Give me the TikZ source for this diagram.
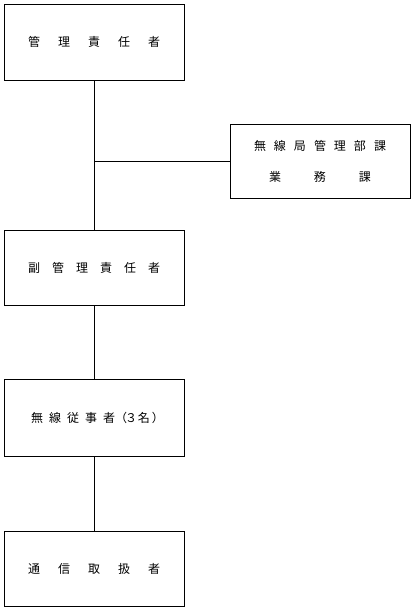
\documentclass[tikz,border=0pt]{standalone}
\usepackage{fontspec}
\newfontfamily\jpfont{Noto Sans CJK JP}
\usetikzlibrary{positioning}
\tikzset{
  soshiki/.style={draw, line width=0.8pt, minimum width=180pt, minimum height=75pt, inner sep=0pt, font=\jpfont\fontsize{12}{14}\selectfont, align=center},
  sen/.style={line width=0.8pt}
}
\begin{document}
\begin{tikzpicture}[x=1pt, y=-1pt]
				% 無線局の管理体制
				\useasboundingbox (0,0) rectangle (413,610);
				
				\node[soshiki, minimum height=76pt] (kanri) at (94,42) {管\hspace{18pt}理\hspace{18pt}責\hspace{18pt}任\hspace{18pt}者};
				\node[soshiki, minimum height=74pt] (bu) at (320,161) {無\hspace{8pt}線\hspace{8pt}局\hspace{8pt}管\hspace{8pt}理\hspace{8pt}部\hspace{8pt}課\\[17pt]業\hspace{33pt}務\hspace{33pt}課};
				\node[soshiki] (fuku) at (94,267.5) {副\hspace{12pt}管\hspace{12pt}理\hspace{12pt}責\hspace{12pt}任\hspace{12pt}者};
				\node[soshiki, minimum height=77pt] (jyuji) at (94,417.5) {無\hspace{6pt}線\hspace{6pt}従\hspace{6pt}事\hspace{6pt}者（\hspace{-2pt}３\hspace{1pt}名\hspace{2pt}）\hspace{-7pt}};
				\node[soshiki] (tsushin) at (94,568.5) {通\hspace{18pt}信\hspace{18pt}取\hspace{18pt}扱\hspace{18pt}者};
				
				\coordinate (bunki) at (kanri.south |- bu.west);
				\draw[sen] (kanri.south) -- (fuku.north);
				\draw[sen] (bunki) -- (bu.west);
				\draw[sen] (fuku.south) -- (jyuji.north);
				\draw[sen] (jyuji.south) -- (tsushin.north);
			\end{tikzpicture}
\end{document}
